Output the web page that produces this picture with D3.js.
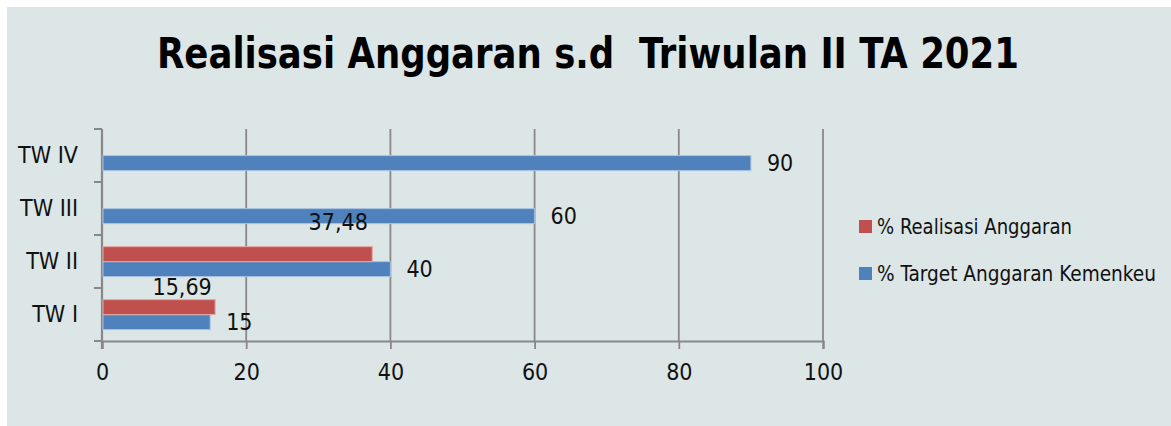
<!DOCTYPE html>
<html>
<head>
<meta charset="utf-8">
<script src="https://cdn.jsdelivr.net/npm/d3@7"></script>
<style>
  html, body { margin: 0; padding: 0; background: #ffffff; }
  svg { display: block; }
</style>
</head>
<body>
<svg id="chart" width="1171" height="426"></svg>
<script>
// ---- data ----
const categories = ["TW I", "TW II", "TW III", "TW IV"];
const realisasi = [15.69, 37.48, null, null];
const target = [15, 40, 60, 90];
const realisasiLabels = ["15,69", "37,48", "", ""];
const targetLabels = ["15", "40", "60", "90"];
const seriesNames = ["% Realisasi Anggaran", "% Target Anggaran Kemenkeu"];
const xTicks = [0, 20, 40, 60, 80, 100];
const titleText = "Realisasi Anggaran s.d  Triwulan II TA 2021";

// ---- layout / style ----
const W = 1171, H = 426;
const FONT = "'Liberation Sans Narrow', 'DejaVu Sans Condensed', 'Liberation Sans', sans-serif";
const colors = ["#C0504D", "#4F81BD"];
const edgeColors = ["#e3a9a7", "#a9c3e2"];
const gridColor = "#888888";
const plot = { left: 102, right: 823, top: 129, bottom: 341 };
const numSize = 23;
// manual label nudges for realisasi labels (Excel-style placement)
const realLabelNudge = [{ dx: -33, dy: -5 }, { dx: -34, dy: -17 }];

const svg = d3.select("#chart");

// panel background
svg.append("rect").attr("x", 7).attr("y", 7).attr("width", W - 7).attr("height", H - 7)
  .attr("fill", "#dce6e6");

// title
svg.append("text")
  .attr("x", 588).attr("y", 68)
  .attr("text-anchor", "middle")
  .attr("font-family", FONT).attr("font-weight", "bold").attr("font-size", 42)
  .attr("textLength", 862).attr("lengthAdjust", "spacingAndGlyphs")
  .attr("fill", "#000")
  .style("white-space", "pre")
  .text(titleText);

// scales
const x = d3.scaleLinear().domain([0, 100]).range([plot.left, plot.right]);
const y = d3.scaleBand().domain(categories).range([plot.bottom, plot.top]).padding(0);
const ySub = d3.scaleBand().domain(["realisasi", "target"])
  .range([y.bandwidth() * 0.22, y.bandwidth() * 0.785]).padding(0);

// vertical gridlines
svg.append("g").selectAll("line").data(xTicks.filter(d => d > 0)).join("line")
  .attr("x1", d => x(d)).attr("x2", d => x(d))
  .attr("y1", plot.top).attr("y2", plot.bottom)
  .attr("stroke", gridColor).attr("stroke-width", 1.8);

// x axis
const xAxis = d3.axisBottom(x).tickValues(xTicks).tickSize(8).tickPadding(15)
  .tickFormat(d => String(d));
const gx = svg.append("g").attr("transform", `translate(0,${plot.bottom})`).call(xAxis);
gx.select(".domain").attr("stroke", gridColor).attr("stroke-width", 2.2);
gx.selectAll(".tick line").attr("stroke", gridColor).attr("stroke-width", 1.8);
gx.selectAll(".tick text").attr("font-family", FONT).attr("font-size", numSize).attr("fill", "#111");

// y axis
const yAxis = d3.axisLeft(y).tickSize(0).tickPadding(24);
const gy = svg.append("g").attr("transform", `translate(${plot.left},0)`).call(yAxis);
gy.select(".domain").remove();
gy.selectAll(".tick text").attr("font-family", FONT).attr("font-size", numSize).attr("fill", "#111");
// y axis line + category boundary ticks
svg.append("line").attr("x1", plot.left).attr("x2", plot.left)
  .attr("y1", plot.top).attr("y2", plot.bottom + 8)
  .attr("stroke", gridColor).attr("stroke-width", 2.2);
const boundaries = categories.map(c => y(c)).concat([plot.bottom]);
svg.append("g").selectAll("line").data(boundaries).join("line")
  .attr("x1", plot.left - 8).attr("x2", plot.left)
  .attr("y1", d => d).attr("y2", d => d)
  .attr("stroke", gridColor).attr("stroke-width", 2);

// bars
const rows = categories.map((c, i) => ({ c, i, r: realisasi[i], t: target[i] }));
const bars = svg.append("g");
bars.selectAll("rect.t").data(rows).join("rect").attr("class", "t")
  .attr("x", x(0) + 1).attr("y", d => y(d.c) + ySub("target"))
  .attr("width", d => x(d.t) - x(0) - 1).attr("height", ySub.bandwidth())
  .attr("fill", colors[1]).attr("stroke", edgeColors[1]).attr("stroke-width", 1);
bars.selectAll("rect.r").data(rows.filter(d => d.r != null)).join("rect").attr("class", "r")
  .attr("x", x(0) + 1).attr("y", d => y(d.c) + ySub("realisasi"))
  .attr("width", d => x(d.r) - x(0) - 1).attr("height", ySub.bandwidth())
  .attr("fill", colors[0]).attr("stroke", edgeColors[0]).attr("stroke-width", 1);

// labels
svg.append("g").selectAll("text").data(rows).join("text")
  .attr("x", d => x(d.t) + 16)
  .attr("y", d => y(d.c) + ySub("target") + ySub.bandwidth() / 2)
  .attr("dy", "0.36em")
  .attr("font-family", FONT).attr("font-size", numSize).attr("fill", "#111")
  .text(d => targetLabels[d.i]);
svg.append("g").selectAll("text").data(rows.filter(d => d.r != null)).join("text")
  .attr("x", d => x(d.r) + realLabelNudge[d.i].dx)
  .attr("y", d => y(d.c) + ySub("realisasi") + realLabelNudge[d.i].dy)
  .attr("text-anchor", "middle")
  .attr("font-family", FONT).attr("font-size", numSize).attr("fill", "#111")
  .text(d => realisasiLabels[d.i]);

// legend
const leg = svg.append("g").attr("transform", "translate(859,0)");
const legY = [220, 267];
const legLen = [195, 279];
seriesNames.forEach((s, i) => {
  leg.append("rect").attr("x", 0).attr("y", legY[i]).attr("width", 13).attr("height", 13)
    .attr("fill", colors[i]);
  leg.append("text").attr("x", 18).attr("y", legY[i] + 14)
    .attr("font-family", FONT).attr("font-size", 21).attr("fill", "#111")
    .attr("textLength", legLen[i]).attr("lengthAdjust", "spacingAndGlyphs")
    .text(s);
});
</script>
</body>
</html>
